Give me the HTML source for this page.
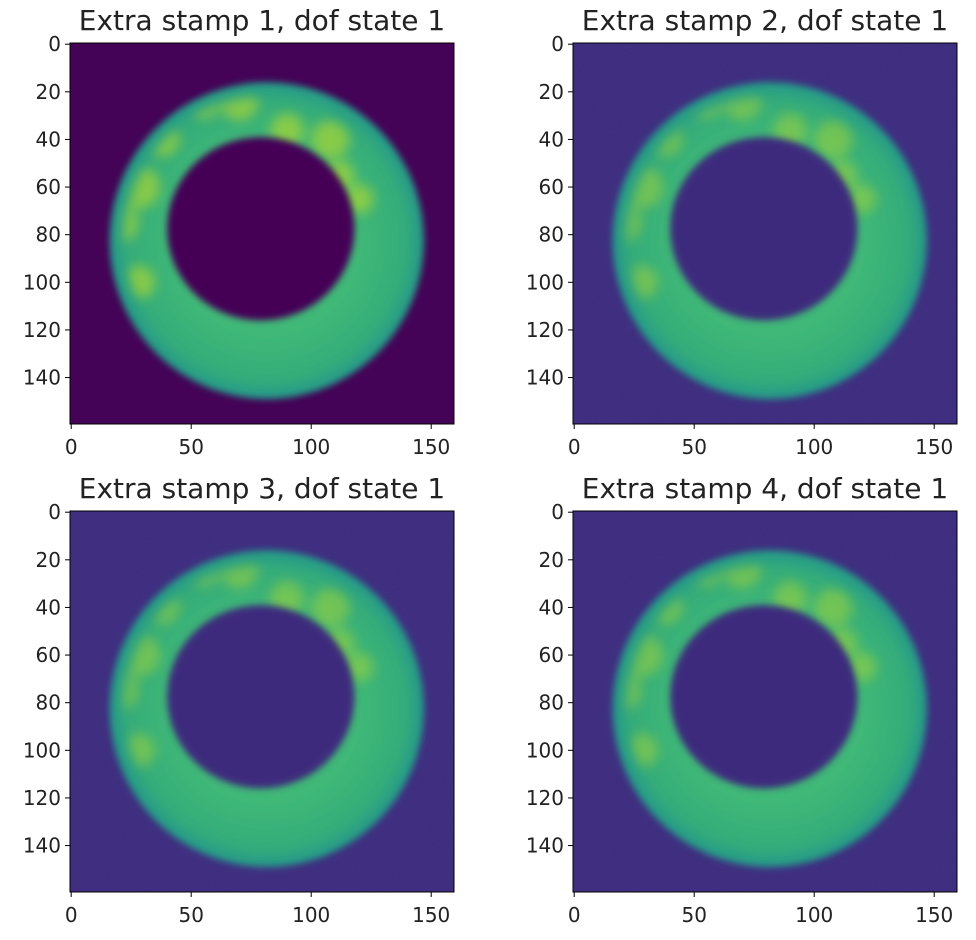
<!DOCTYPE html>
<html><head><meta charset="utf-8"><style>
html,body{margin:0;padding:0;background:#fff;}
svg{display:block;font-family:"DejaVu Sans","Liberation Sans",sans-serif;}
</style></head><body>
<svg id="fig" width="976" height="940" viewBox="0 0 976 940">
<defs>
<filter id="blur" x="-20%" y="-20%" width="140%" height="140%"><feGaussianBlur stdDeviation="3.5"/></filter>
<filter id="blurm" x="-20%" y="-20%" width="140%" height="140%"><feGaussianBlur stdDeviation="6"/></filter>
<filter id="blur2" x="-50%" y="-50%" width="200%" height="200%"><feGaussianBlur stdDeviation="6"/></filter>
<filter id="noise"><feTurbulence type="fractalNoise" baseFrequency="0.9" numOctaves="1" seed="3"/><feColorMatrix type="matrix" values="0 0 0 0 0.25  0 0 0 0 0.2  0 0 0 0 0.5  0 0 0 0.4 0"/></filter>
<radialGradient id="ringGrad" cx="0.5" cy="0.5" r="0.5">
<stop offset="0.6" stop-color="#3fb877"/><stop offset="0.88" stop-color="#35ac7a"/><stop offset="1" stop-color="#23988a"/>
</radialGradient>
</defs>
</svg>
<script>
const titles = ["Extra stamp 1, dof state 1","Extra stamp 2, dof state 1","Extra stamp 3, dof state 1","Extra stamp 4, dof state 1"];
const bgColors = ["#440356","#3c2b7d","#3c2b7d","#3c2b7d"];
const yTicks = [0,20,40,60,80,100,120,140];
const xTicks = [0,50,100,150];
const imgSize = 160;
// ring geometry in data units: [cx, cy, rx, ry]
const outerRing = [81.5, 82.5, 65.5, 66.5];
const innerHole = [79, 77.5, 39, 38.5];
// bright spots [x, y, r]
const spots = [[70,24,8],[55,24,7],[90,36,7],[108,40,8],[20,75,8],[28,60,9],[28,100,7],[112,55,6],[38,40,7],[120,65,6]];

const NS = "http://www.w3.org/2000/svg";
const fig = document.getElementById('fig');
const panels = [[70,43],[573,43],[70,511],[573,511]];
const W = 384, H = 381;
function mk(tag, attrs, parent){const e=document.createElementNS(NS,tag);for(const k in attrs)e.setAttribute(k,attrs[k]);(parent||fig).appendChild(e);return e;}

panels.forEach((p,i)=>{
  const [L,T]=p;
  const sx=v=>L+(v+0.5)*W/imgSize, sy=v=>T+(v+0.5)*H/imgSize;
  const kx=W/imgSize, ky=H/imgSize;
  const g=mk('g',{});
  
  
  const clipId='clip'+i;
  const cp=mk('clipPath',{id:clipId},g);mk('rect',{x:L,y:T,width:W,height:H},cp);
  const maskId='ringmask'+i;
  const m=mk('mask',{id:maskId,maskUnits:'userSpaceOnUse',x:L,y:T,width:W,height:H},g);
  mk('rect',{x:L,y:T,width:W,height:H,fill:'#000'},m);
  mk('ellipse',{cx:sx(outerRing[0]),cy:sy(outerRing[1]),rx:(outerRing[2]-6)*kx,ry:(outerRing[3]-6)*ky,fill:'#fff',filter:'url(#blurm)'},m);
  const img=mk('g',{'clip-path':'url(#'+clipId+')'},g);
  
  
  mk('rect',{x:L,y:T,width:W,height:H,fill:bgColors[i]},img);
  if(i>0) mk('rect',{x:L,y:T,width:W,height:H,filter:'url(#noise)',opacity:0.25},img);
  mk('ellipse',{cx:sx(outerRing[0]),cy:sy(outerRing[1]),rx:outerRing[2]*kx,ry:outerRing[3]*ky,fill:'url(#ringGrad)',filter:'url(#blur)'},img);
  const sgc=mk('g',{mask:'url(#'+maskId+')'},img);
  const sg=mk('g',{filter:'url(#blur2)',opacity:i==0?0.55:0.4},sgc);
  spots.forEach(s=>mk('circle',{cx:sx(s[0]),cy:sy(s[1]),r:s[2]*kx,fill:'#c8e020'},sg));
  mk('ellipse',{cx:sx(innerHole[0]),cy:sy(innerHole[1]),rx:innerHole[2]*kx,ry:innerHole[3]*ky,fill:bgColors[i],filter:'url(#blur)'},img);
  const fr=mk('rect',{x:L,y:T,width:W,height:H,fill:'none',stroke:'#000','stroke-width':1},g);
  
  
  const t=mk('text',{x:L+W/2,y:T-13,'text-anchor':'middle','font-size':28,fill:'#222'},g);
  
  
  t.textContent=titles[i];
  yTicks.forEach(v=>{
    const y=sy(v);
    mk('line',{x1:L-5,x2:L,y1:y,y2:y,stroke:'#000'},g);
    const tl=mk('text',{x:L-9,y:y+7,'text-anchor':'end','font-size':20,fill:'#222'},g);
    
    
    tl.textContent=v;
  });
  xTicks.forEach(v=>{
    const x=sx(v);
    mk('line',{x1:x,x2:x,y1:T+H,y2:T+H+5,stroke:'#000'},g);
    const tl=mk('text',{x:x,y:T+H+30,'text-anchor':'middle','font-size':20,fill:'#222'},g);
    
    
    tl.textContent=v;
  });
});
</script>
</body></html>
